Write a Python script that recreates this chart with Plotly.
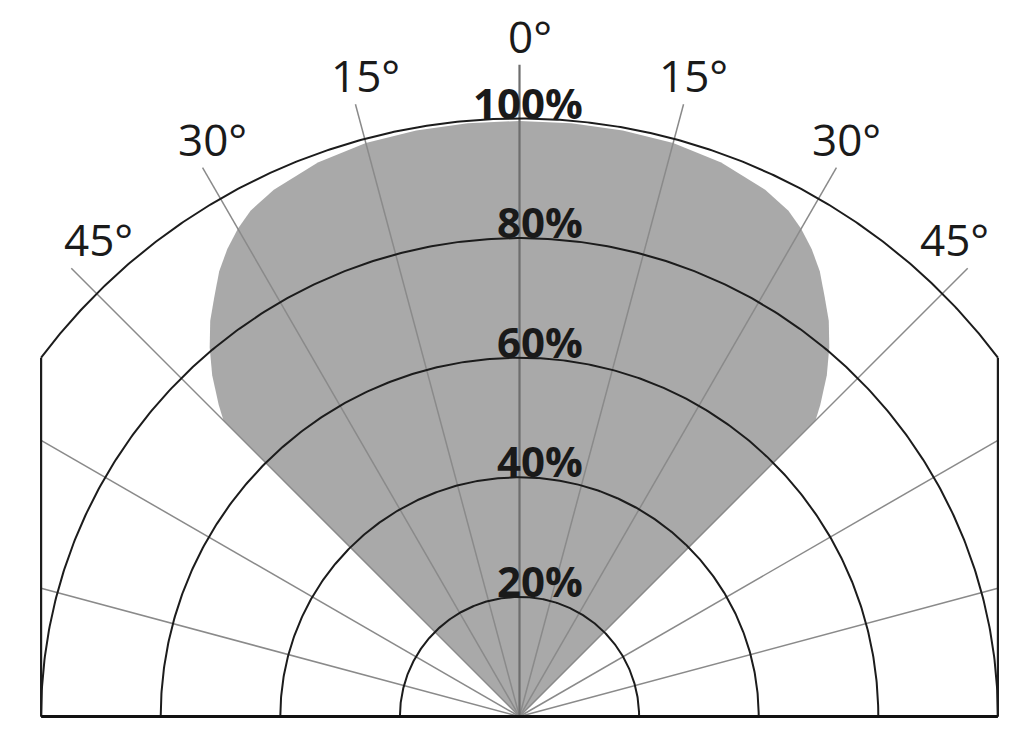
import numpy as np
import plotly.graph_objects as go

# Relative luminous intensity (%) versus angle from the beam axis (degrees)
beam_angle_deg = [-45, -44, -42, -40, -38, -36, -34, -32, -30, -28, -25, -20, -15, -10, -5,
                  0, 5, 10, 15, 20, 25, 28, 30, 32, 34, 36, 38, 40, 42, 44, 45]
beam_intensity = [70.0, 72.4, 76.8, 80.6, 84.0, 86.8, 89.8, 92.2, 94.2, 95.8, 97.2, 98.6, 99.3, 99.5, 99.6,
                  99.6, 99.6, 99.5, 99.3, 98.6, 97.2, 95.8, 94.2, 92.2, 89.8, 86.8, 84.0, 80.6, 76.8, 72.4, 70.0]

# Polar grid
ring_values = [20, 40, 60, 80, 100]
ring_labels = ["20%", "40%", "60%", "80%", "100%"]
spoke_angles = [-75, -60, -45, -30, -15, 0, 15, 30, 45, 60, 75]
tick_angles = [-45, -30, -15, 0, 15, 30, 45]
tick_labels = ["45°", "30°", "15°", "0°", "15°", "30°", "45°"]

# Geometry of the drawing (axis units: 100 = full intensity radius)
PX = 5.98            # pixels per unit
CX, CY = 519.5, 716.5  # pixel position of the origin
W, H = 1024, 732
HALF_W = 80.0        # half width of the clipping frame
SPOKE_LEN = 106.0
AXIS_LEN = 109.0

def to_xy(r, deg):
    t = np.radians(np.asarray(deg, dtype=float))
    r = np.asarray(r, dtype=float)
    return r * np.sin(t), r * np.cos(t)

fig = go.Figure()

# Beam pattern (filled from the origin)
bx, by = to_xy(beam_intensity, beam_angle_deg)
fig.add_trace(go.Scatter(
    x=np.concatenate([[0], bx, [0]]), y=np.concatenate([[0], by, [0]]),
    mode="lines", fill="toself", fillcolor="#a9a9a9",
    line=dict(width=0, color="#a9a9a9"), hoverinfo="skip", showlegend=False))

# Angle spokes
sx, sy = [], []
for a in spoke_angles:
    if a == 0:
        continue
    s = abs(np.sin(np.radians(a)))
    length = min(SPOKE_LEN, HALF_W / s)
    ex, ey = to_xy(length, a)
    sx += [0, float(ex), None]
    sy += [0, float(ey), None]
fig.add_trace(go.Scatter(x=sx, y=sy, mode="lines", line=dict(color="#8a8a8a", width=1.5),
                         hoverinfo="skip", showlegend=False))
fig.add_trace(go.Scatter(x=[0, 0], y=[0, AXIS_LEN], mode="lines",
                         line=dict(color="#6e6e6e", width=2.2),
                         hoverinfo="skip", showlegend=False))

# Intensity rings
for rv in ring_values:
    lim = 90.0 if rv <= HALF_W else np.degrees(np.arcsin(HALF_W / rv))
    th = np.linspace(-lim, lim, 400)
    rx, ry = to_xy(np.full_like(th, rv), th)
    fig.add_trace(go.Scatter(x=rx, y=ry, mode="lines", line=dict(color="#1c1c1c", width=2),
                             hoverinfo="skip", showlegend=False))

# Frame
y_top = float(np.sqrt(100.0 ** 2 - HALF_W ** 2))
fig.add_trace(go.Scatter(x=[-HALF_W, -HALF_W, None, HALF_W, HALF_W],
                         y=[y_top, 0, None, 0, y_top], mode="lines",
                         line=dict(color="#1c1c1c", width=2.2), hoverinfo="skip", showlegend=False))
fig.add_trace(go.Scatter(x=[-HALF_W, HALF_W], y=[0, 0], mode="lines",
                         line=dict(color="#111111", width=3), hoverinfo="skip", showlegend=False))

annotations = []
# Ring labels, right-aligned just right of the beam axis, sitting on each ring
for rv, lab in zip(ring_values, ring_labels):
    annotations.append(dict(x=10.95, y=rv, xref="x", yref="y", text=lab, showarrow=False,
                            xanchor="right", yanchor="bottom", yshift=-14,
                            font=dict(family="Open Sans", size=42, color="#1a1a1a", weight="bold")))
# Angle labels above the spoke ends
for a, lab in zip(tick_angles, tick_labels):
    length = AXIS_LEN if a == 0 else SPOKE_LEN
    ex, ey = to_xy(length, a)
    if abs(a) == 45:
        xs = 27 if a < 0 else -13
    else:
        xs = 10
    annotations.append(dict(x=float(ex), y=float(ey), xref="x", yref="y", text=lab, showarrow=False,
                            xanchor="center", yanchor="bottom", xshift=xs, yshift=-3,
                            font=dict(family="Open Sans", size=44, color="#1a1a1a")))

fig.update_layout(
    width=W, height=H, margin=dict(l=0, r=0, t=0, b=0),
    paper_bgcolor="white", plot_bgcolor="white",
    xaxis=dict(range=[-CX / PX, (W - CX) / PX], visible=False, fixedrange=True),
    yaxis=dict(range=[-(H - CY) / PX, CY / PX], visible=False, fixedrange=True),
    annotations=annotations, showlegend=False)

fig.write_html("out.html")
